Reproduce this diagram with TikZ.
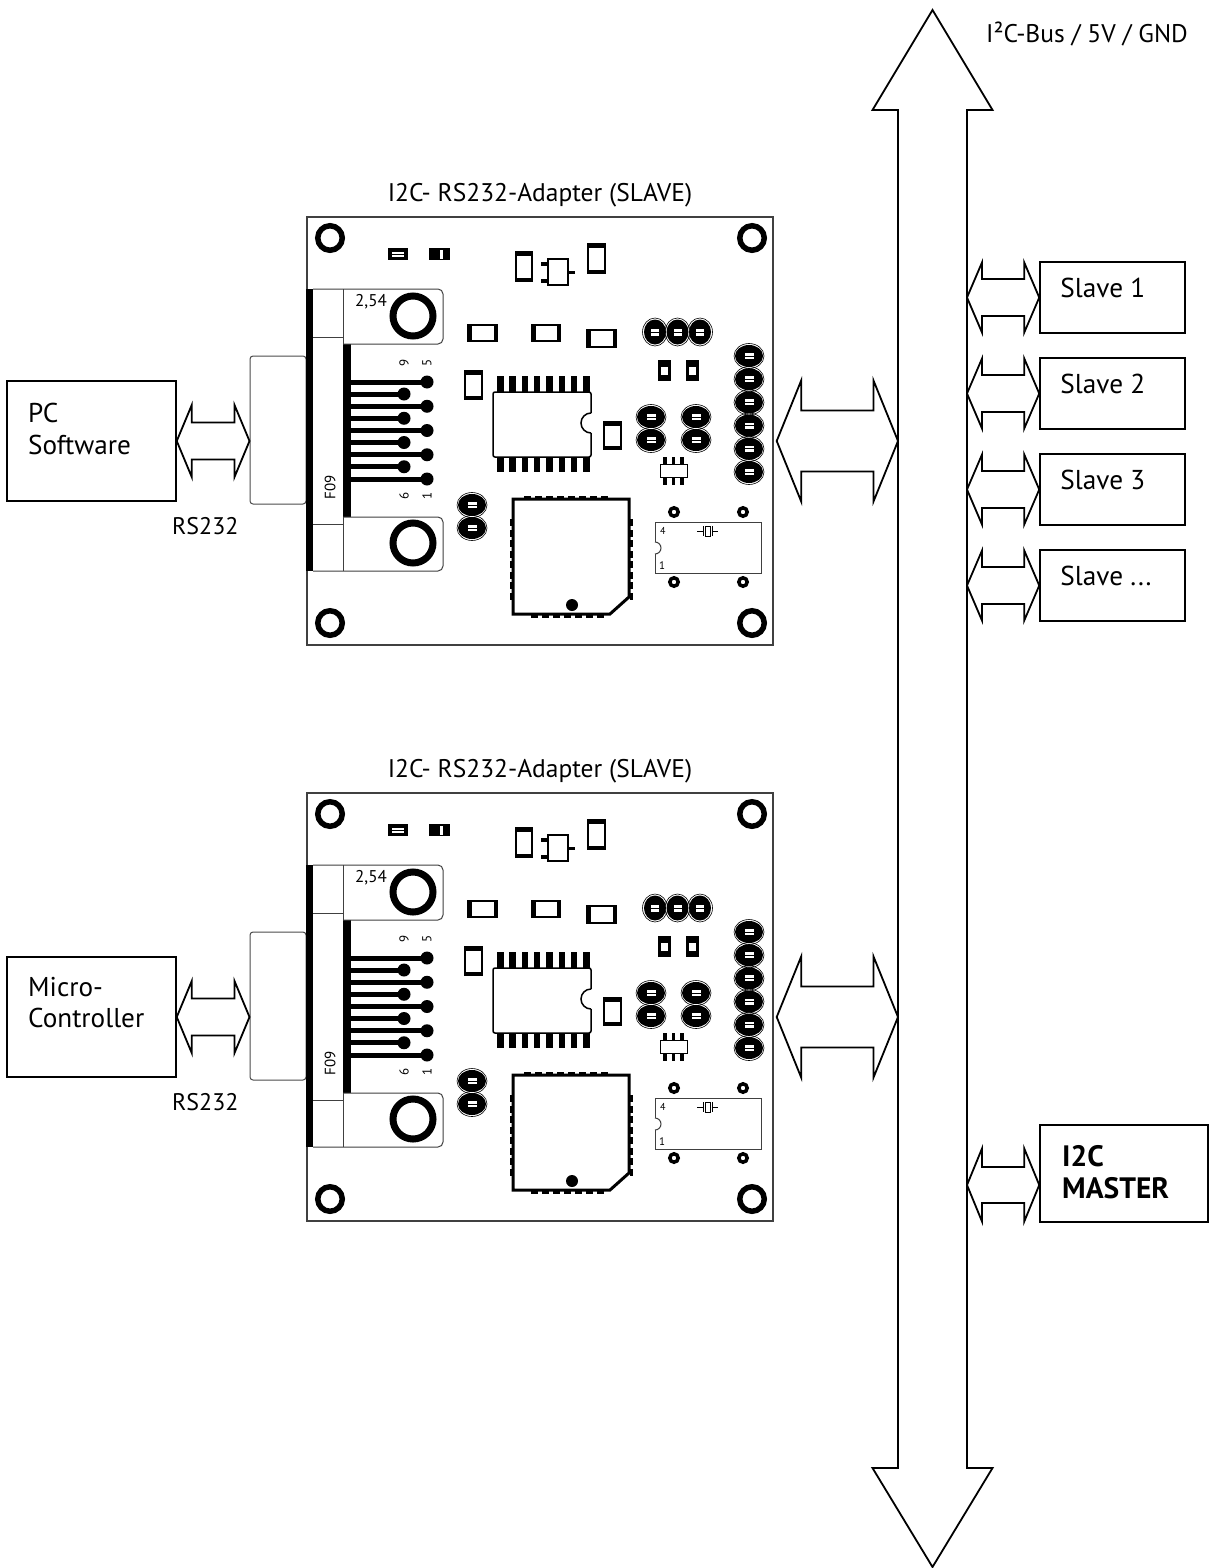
\documentclass[tikz,border=0pt]{standalone}
\usepackage{fontspec}
\setmainfont{PT Sans}
\usetikzlibrary{calc}

\tikzset{
  box/.style={draw, line width=1.5pt, inner sep=0pt},
  board/.style={draw=black!75, line width=1.4pt, minimum width=466pt, minimum height=428pt, inner sep=0pt},
  shell/.style={draw=black!70, line width=1pt, rounded corners=3pt, minimum width=56pt, minimum height=148pt, inner sep=0pt},
  pcb/.style={draw=black!75, line width=1pt},
  arrowline/.style={line width=1.8pt, line join=miter},
  lbl/.style={font=\fontsize{25.5}{28}\selectfont, inner sep=0pt},
  buslbl/.style={font=\fontsize{25.5}{28}\selectfont, inner sep=0pt},
  rslbl/.style={font=\fontsize{24}{28}\selectfont, inner sep=0pt},
  big/.style={font=\fontsize{27.2}{31.5}\selectfont, inner sep=0pt, align=left},
  bigb/.style={font=\fontsize{29.5}{32}\selectfont\bfseries, inner sep=0pt, align=left},
  slavetxt/.style={font=\fontsize{27.3}{30}\selectfont, inner sep=0pt},
  tinytxt/.style={font=\fontsize{13}{13}\selectfont, inner sep=0pt},
}

% горизонтальная двойная стрелка: концы, полуширина стержня, полуширина головки, длина головки
\newcommand{\dualarrow}[5]{%
  \draw[arrowline] let \p1=(#1), \p2=(#2) in
    (\x1,\y1) -- (\x1+#5,\y1+#4) -- (\x1+#5,\y1+#3) -- (\x2-#5,\y1+#3) -- (\x2-#5,\y1+#4)
    -- (\x2,\y1) -- (\x2-#5,\y1-#4) -- (\x2-#5,\y1-#3) -- (\x1+#5,\y1-#3) -- (\x1+#5,\y1-#4) -- cycle;}

% SMD-резисторы
\newcommand{\resv}[4]{\draw[line width=1.5pt] (#1,#2) rectangle (#3,#4);
  \fill (#1,#2) rectangle (#3,#2+3.5); \fill (#1,#4-3.5) rectangle (#3,#4);}
\newcommand{\resh}[4]{\draw[line width=1.5pt] (#1,#2) rectangle (#3,#4);
  \fill (#1,#2) rectangle (#1+3.5,#4); \fill (#3-3.5,#2) rectangle (#3,#4);}

% контактные площадки
\newcommand{\padh}[2]{\draw[line width=0.6pt] (#1,#2) ellipse[x radius=15pt, y radius=12.5pt];
  \fill (#1,#2) ellipse[x radius=14pt, y radius=11pt];
  \fill[white] (#1-4.5,#2-3) rectangle (#1+4.5,#2+3);
  \draw[line width=0.8pt] (#1-4.5,#2) -- (#1+4.5,#2);}
\newcommand{\padv}[2]{\draw[line width=0.6pt] (#1,#2) ellipse[x radius=12.5pt, y radius=14pt];
  \fill (#1,#2) ellipse[x radius=11pt, y radius=12.5pt];
  \fill[white] (#1-4,#2-3.5) rectangle (#1+4,#2+3.5);
  \draw[line width=0.8pt] (#1-4,#2) -- (#1+4,#2);}

\newcommand{\slavedots}{...}

% плата адаптера
\newcommand{\adapterboard}[1]{%
  \node[board] (#1) at (540,431) {};
  \node[lbl, anchor=base] (#1title) at (540,201) {I2C- RS232-Adapter (SLAVE)};
  \node[shell] (#1shell) at (278,430) {}; % корпус DB9
  \foreach \x/\y in {330/238, 752/238, 330/623, 752/623}
    \draw[line width=5.5pt] (\x,\y) circle[radius=12.25pt]; % крепёжные отверстия
  % разъём
  \fill (306,289) rectangle (313,571);
  \fill (343,344) rectangle (351,517);
  \draw[pcb, rounded corners=5pt] (313,289) -- (443,289) -- (443,344) -- (343,344);
  \draw[pcb] (343,289) -- (343,344);
  \draw[pcb] (313,337) -- (343,337);
  \draw[pcb, rounded corners=5pt] (343,517) -- (443,517) -- (443,571) -- (313,571);
  \draw[pcb] (343,517) -- (343,571);
  \draw[pcb] (313,524) -- (343,524);
  \draw[line width=7pt] (413,316) circle[radius=20pt];
  \draw[line width=7pt] (413,543) circle[radius=20pt];
  \node[tinytxt, font=\fontsize{17}{17}\selectfont, anchor=base west] at (355,306) {2,54};
  \foreach \y in {382,406.25,430.5,454.75,479} {
    \draw[line width=5pt] (351,\y) -- (427,\y);
    \fill (427,\y) circle[radius=6.5pt];
  }
  \foreach \y in {394,418.25,442.5,466.75} {
    \draw[line width=5pt] (351,\y) -- (404,\y);
    \fill (404,\y) circle[radius=6.5pt];
  }
  \node[tinytxt, rotate=90] at (404,363) {9};
  \node[tinytxt, rotate=90] at (427,363) {5};
  \node[tinytxt, rotate=90] at (404,496) {6};
  \node[tinytxt, rotate=90] at (427,496) {1};
  \node[tinytxt, font=\fontsize{15}{15}\selectfont, rotate=90] at (330,487) {F09};
  % мелкие элементы сверху
  \fill (388,248) rectangle (408,260); \fill[white] (392,251.5) rectangle (404,256.5);
  \draw[line width=1pt] (392,254) -- (404,254);
  \fill (429,248) rectangle (450,260); \fill[white] (440,249.5) rectangle (443,258.5);
  \resv{516}{252}{532}{281}
  \resv{588}{244}{605}{273}
  \draw[line width=1.5pt] (548,259) rectangle (568,285); % транзистор
  \fill (541,262) rectangle (548,265.5); \fill (541,279) rectangle (548,282.5);
  \fill (568,270.5) rectangle (575,274);
  \resh{468}{325}{497}{341}
  \resh{532}{325}{560}{341}
  \resh{587}{330}{616}{347}
  \resv{465}{371}{482}{399}
  \resv{604}{422}{621}{449}
  \padv{655}{332} \padv{677.5}{332} \padv{700}{332}
  \fill (658,360) rectangle (671,381); \fill[white] (661,367) rectangle (668,375);
  \fill (686,360) rectangle (699,381); \fill[white] (689,367) rectangle (696,375);
  \foreach \y in {356,379.2,402.4,425.6,448.8,472} {\padh{749}{\y}}
  \padh{651}{417} \padh{651}{440} \padh{696}{417} \padh{696}{440}
  \padh{472}{505} \padh{472}{528}
  % микросхема SOIC
  \draw[line width=1.5pt, rounded corners=2pt] (591,413) -- (591,392) -- (493,392) -- (493,457) -- (591,457) -- (591,433);
  \draw[line width=1.5pt] (591,413) arc[start angle=90, end angle=270, radius=10pt];
  \foreach \i in {0,...,7} {
    \fill (497+\i*12.3,376) rectangle ++(6.5,16);
    \fill (497+\i*12.3,457) rectangle ++(6.5,15);
  }
  \draw[line width=1pt] (660,464) rectangle (687,477);
  \foreach \x in {665,673.5,682} {
    \fill (\x-1.8,457) rectangle (\x+1.8,464);
    \fill (\x-1.8,477) rectangle (\x+1.8,485);
  }
  % PLCC
  \draw[line width=3pt, line join=miter] (513,499) -- (629,499) -- (629,597) -- (610,614) -- (513,614) -- cycle;
  \foreach \i in {0,...,7} {
    \fill (524+\i*11,495.5) rectangle ++(7,3);
    \fill (509.5,519+\i*10.5) rectangle ++(3,7);
    \fill (629.5,519+\i*10.5) rectangle ++(3,7);
  }
  \foreach \i in {0,...,6} \fill (531+\i*11,614.5) rectangle ++(7,3);
  \fill (572,605) circle[radius=6pt];
  % кварцевый генератор
  \draw[pcb] (655,542) -- (655,522) -- (761,522) -- (761,573) -- (655,573) -- (655,554);
  \draw[pcb] (655,542) arc[start angle=90, end angle=-90, radius=6pt];
  \foreach \x/\y in {674/512, 743/512, 674/582, 743/582}
    \draw[line width=3.5pt] (\x,\y) circle[radius=4.2pt];
  \draw[line width=1pt] (697,531) -- (703,531) (703,526) -- (703,536) (705,526) rectangle (710,536)
    (712,526) -- (712,536) (712,531) -- (718,531);
  \node[tinytxt, font=\fontsize{11}{11}\selectfont, anchor=base west] at (659,569) {1};
  \node[tinytxt, font=\fontsize{10}{10}\selectfont, anchor=base west] at (660,534) {4};
}

\begin{document}
\begin{tikzpicture}[x=1pt,y=-1pt]
\path[fill=white, use as bounding box] (0,0) rectangle (1210,1568);

% шина
\coordinate (bustop) at (932.5,10);
\coordinate (busbot) at (932.5,1567);
\coordinate (busL) at ($(bustop)+(-34.5,0)$);
\coordinate (busR) at ($(bustop)+(34.5,0)$);
\draw[arrowline] let \p1=(bustop), \p2=(busbot) in
  (\x1,\y1) -- (\x1+60pt,\y1-100pt) -- (\x1+34.5pt,\y1-100pt) -- (\x1+34.5pt,\y2+99pt) -- (\x1+60pt,\y2+99pt)
  -- (\x1,\y2) -- (\x1-60pt,\y2+99pt) -- (\x1-34.5pt,\y2+99pt) -- (\x1-34.5pt,\y1-100pt) -- (\x1-60pt,\y1-100pt) -- cycle;
\node[buslbl, anchor=base west] (buslabel) at (986,43) {I²C-Bus / 5V / GND};

% платы адаптеров
\adapterboard{brd1}
\begin{scope}[shift={(0,576)}]
\adapterboard{brd2}
\end{scope}

% ПК и микроконтроллер
\node[box, minimum width=169pt, minimum height=120pt] (pc) at (91.5,441) {};
\node[big, anchor=north west] at (28,403) {PC\\Software};
\node[box, minimum width=169pt, minimum height=120pt] (mc) at (91.5,1017) {};
\node[big, anchor=north west] at (28,977) {Micro-\\Controller};
\node[rslbl, anchor=base west] (rs1) at (172,534) {RS232};
\node[rslbl, anchor=base west] (rs2) at (172,1110) {RS232};
\dualarrow{pc.east}{brd1shell.west |- pc.east}{18.5pt}{36pt}{15pt}
\dualarrow{mc.east}{brd2shell.west |- mc.east}{18.5pt}{36pt}{15pt}

% адаптеры - шина
\coordinate (a1) at ($(brd1.east)+(3,10)$);
\coordinate (a2) at ($(brd2.east)+(3,10)$);
\dualarrow{a1}{busL |- a1}{30.5pt}{60.5pt}{24.5pt}
\dualarrow{a2}{busL |- a2}{30.5pt}{60.5pt}{24.5pt}

% ведомые
\foreach \i/\name in {1/1,2/2,3/3,4/\slavedots} {
  \node[box, minimum width=145pt, minimum height=71pt] (s\i) at (1112.5,201.5+96*\i) {};
  \node[slavetxt, anchor=base west] at ($(s\i.north west)+(21,36)$) {Slave \name};
  \dualarrow{busR |- s\i.west}{s\i.west}{18.5pt}{35pt}{15pt}
}

% ведущий
\node[box, minimum width=168pt, minimum height=97pt] (master) at (1124,1173.5) {};
\node[bigb, anchor=north west] at (1062,1145) {I2C\\MASTER};
\coordinate (m1) at ($(master.west)+(0,11.5)$);
\dualarrow{busR |- m1}{m1}{18pt}{36.5pt}{15pt}

\end{tikzpicture}
\end{document}
